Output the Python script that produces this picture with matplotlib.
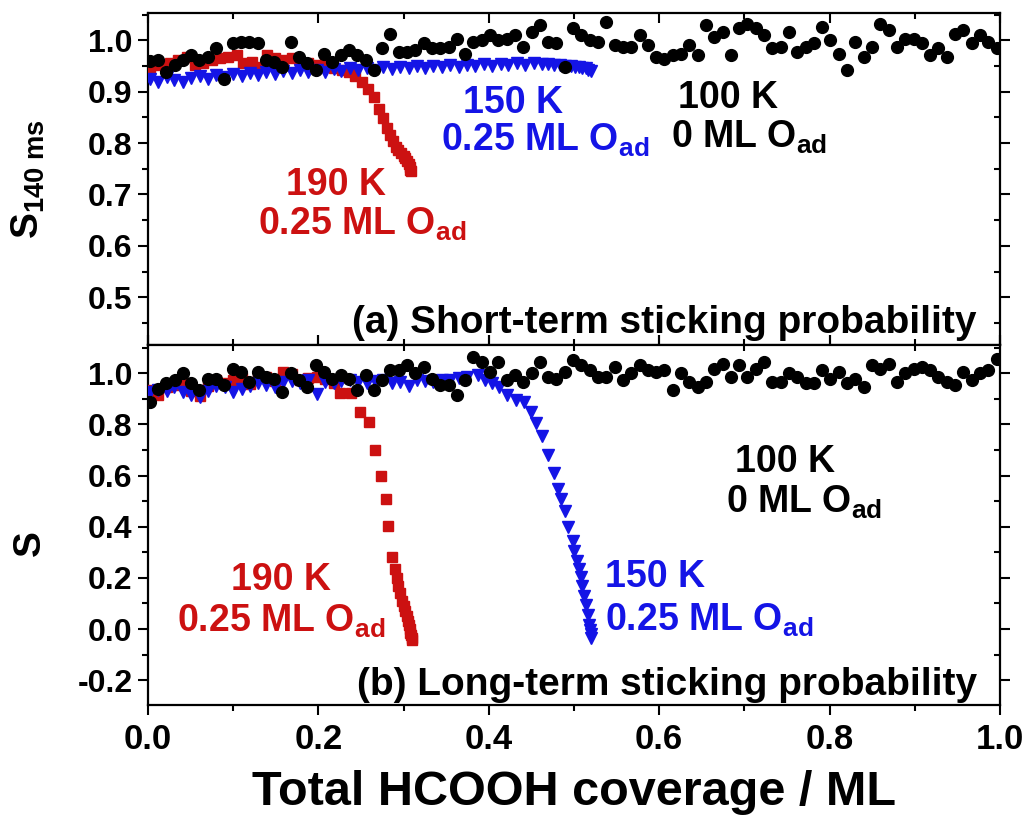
import numpy as np
import matplotlib
matplotlib.use("Agg")
import matplotlib.pyplot as plt
from matplotlib import font_manager
from matplotlib.ticker import MultipleLocator

# pick a condensed bold face if one is installed
names = {f.name for f in font_manager.fontManager.ttflist}
narrow = 'Liberation Sans Narrow' if 'Liberation Sans Narrow' in names else 'Liberation Sans'

plt.rcParams['font.family'] = [narrow, 'DejaVu Sans']
plt.rcParams['font.weight'] = 'bold'
plt.rcParams['mathtext.fontset'] = 'custom'
plt.rcParams['mathtext.rm'] = narrow + ':bold'
plt.rcParams['mathtext.bf'] = narrow + ':bold'
plt.rcParams['mathtext.it'] = narrow + ':bold'

RED = '#cc1111'
BLUE = '#1414e6'

# ---------------- data: (a) short-term sticking probability ----------------
a_black_y = [0.959, 0.961, 0.938, 0.951, 0.961, 0.971, 0.961, 0.967, 0.984, 0.925,
             0.994, 0.997, 0.997, 0.994, 0.961, 0.958, 0.948, 0.997, 0.967, 0.955,
             0.942, 0.974, 0.958, 0.971, 0.981, 0.971, 0.961, 0.942, 0.984, 1.013,
             0.977, 0.977, 0.981, 0.994, 0.984,
             0.984, 0.987, 1.003, 0.974, 0.997, 1.000, 1.010, 1.000, 1.003, 1.010,
             0.987, 1.016, 1.029, 0.997, 0.994, 0.948, 1.023, 1.010, 1.000, 0.997,
             1.036, 0.990, 0.987, 0.987, 1.010, 0.990, 0.967, 0.964, 0.971, 0.974,
             0.990, 0.971, 1.029, 1.006, 1.016, 0.971,
             1.023, 1.032, 1.023, 1.010, 0.984, 0.987, 1.016, 0.977, 0.987, 0.994,
             1.026, 1.000, 0.974, 0.942, 0.997, 0.967, 0.987, 1.032, 1.019, 0.987,
             1.003, 1.003, 0.994, 0.971, 0.984, 0.967, 1.013, 1.019, 0.994, 1.010,
             0.997, 0.984]
a_black_x = np.linspace(0.002, 0.996, len(a_black_y))

a_red_x = [0.002, 0.014, 0.026, 0.035, 0.046, 0.055, 0.065, 0.075, 0.085, 0.094,
           0.105, 0.112, 0.122, 0.132, 0.140, 0.149, 0.159, 0.169, 0.179, 0.188,
           0.199, 0.208, 0.218, 0.228, 0.236, 0.243, 0.251, 0.258, 0.265, 0.271,
           0.276, 0.280, 0.284, 0.288, 0.291, 0.294, 0.297, 0.300, 0.302, 0.304,
           0.306, 0.307, 0.308, 0.309]
a_red_y = [0.945, 0.951, 0.955, 0.961, 0.967, 0.951, 0.955, 0.961, 0.965, 0.967,
           0.971, 0.955, 0.957, 0.948, 0.971, 0.965, 0.961, 0.965, 0.957, 0.955,
           0.951, 0.955, 0.945, 0.942, 0.938, 0.930, 0.918, 0.905, 0.890, 0.866,
           0.848, 0.830, 0.815, 0.803, 0.792, 0.786, 0.780, 0.775, 0.770, 0.765,
           0.760, 0.754, 0.748, 0.745]

a_blue_x = [0.002, 0.012, 0.022, 0.031, 0.041, 0.051, 0.061, 0.071, 0.080, 0.090,
            0.100, 0.110, 0.120, 0.129, 0.139, 0.149, 0.159, 0.169, 0.178, 0.188,
            0.198, 0.208, 0.218, 0.227, 0.237, 0.247, 0.257, 0.267, 0.276, 0.286,
            0.296, 0.306, 0.316, 0.325, 0.335, 0.345, 0.355, 0.365, 0.374, 0.384,
            0.394, 0.404, 0.414, 0.423, 0.433, 0.443, 0.453, 0.462, 0.470, 0.477,
            0.484, 0.490, 0.496, 0.501, 0.506, 0.510, 0.514, 0.517, 0.520]
a_blue_y = [0.925, 0.918, 0.928, 0.922, 0.918, 0.927, 0.931, 0.925, 0.933, 0.929,
            0.935, 0.931, 0.937, 0.933, 0.939, 0.935, 0.940, 0.937, 0.942, 0.938,
            0.943, 0.939, 0.944, 0.941, 0.945, 0.942, 0.946, 0.943, 0.947, 0.944,
            0.948, 0.945, 0.949, 0.946, 0.950, 0.947, 0.951, 0.948, 0.952, 0.949,
            0.953, 0.950, 0.954, 0.951, 0.955, 0.952, 0.955, 0.953, 0.954, 0.951,
            0.952, 0.949, 0.950, 0.947, 0.948, 0.945, 0.946, 0.943, 0.940]

# ---------------- data: (b) long-term sticking probability ----------------
b_black_y = [0.889, 0.940, 0.960, 0.973, 0.999, 0.960, 0.934, 0.979, 0.979, 0.953,
             1.018, 1.005, 0.966, 1.005, 0.986, 0.979, 0.927, 0.999, 0.973, 0.947,
             1.031, 1.005, 0.979, 0.992, 0.979, 0.934, 0.992, 0.934, 0.973, 1.012,
             1.012, 1.031, 0.999, 1.025, 0.979,
             0.953, 0.953, 0.915, 0.973, 1.063, 1.044, 1.005, 1.044, 0.973, 0.992,
             0.966, 0.999, 1.044, 0.986, 0.979, 1.005, 1.050, 1.031, 1.012, 0.986,
             0.986, 1.025, 0.973, 0.999, 1.031, 1.012, 1.005, 1.012, 0.934, 0.999,
             0.966, 0.947, 0.966, 1.018, 1.037,
             0.986, 1.031, 0.986, 1.018, 1.044, 0.966, 0.966, 0.999, 0.986, 0.960,
             0.960, 1.012, 0.979, 1.005, 0.960, 0.979, 0.947, 1.031, 1.018, 1.037,
             0.966, 0.999, 1.018, 1.025, 1.012, 0.986, 0.966, 0.953, 1.005, 0.973,
             0.999, 1.012, 1.057]
b_black_x = np.linspace(0.002, 0.996, len(b_black_y))

b_red_x = [0.002, 0.012, 0.022, 0.031, 0.041, 0.051, 0.061, 0.071, 0.080, 0.090,
           0.100, 0.110, 0.120, 0.129, 0.139, 0.149, 0.159, 0.169, 0.178, 0.188,
           0.198, 0.208, 0.218, 0.226, 0.238, 0.249, 0.259, 0.267, 0.273, 0.279,
           0.282, 0.287, 0.290, 0.292, 0.294, 0.296, 0.298, 0.300, 0.302, 0.304,
           0.305, 0.306, 0.307, 0.308, 0.309, 0.310, 0.310]
b_red_y = [0.934, 0.915, 0.945, 0.955, 0.962, 0.930, 0.912, 0.950, 0.975, 0.962,
           0.972, 0.982, 0.958, 0.990, 0.985, 0.968, 1.005, 0.995, 0.972, 0.980,
           0.985, 0.976, 0.960, 0.922, 0.922, 0.850, 0.811, 0.701, 0.597, 0.507,
           0.403, 0.280, 0.235, 0.200, 0.170, 0.140, 0.110, 0.090, 0.070, 0.050,
           0.030, 0.015, 0.000, -0.015, -0.025, -0.035, -0.043]

b_blue_x = [0.002, 0.012, 0.022, 0.031, 0.041, 0.051, 0.061, 0.071, 0.080, 0.090,
            0.100, 0.110, 0.120, 0.129, 0.139, 0.149, 0.159, 0.169, 0.178, 0.188,
            0.198, 0.208, 0.218, 0.227, 0.237, 0.247, 0.257, 0.267, 0.276, 0.286,
            0.296, 0.306, 0.316, 0.325, 0.335, 0.345, 0.355, 0.365, 0.374,
            0.387, 0.396, 0.404, 0.412, 0.422, 0.432, 0.441, 0.450, 0.455, 0.463,
            0.469, 0.477, 0.481, 0.485, 0.489, 0.493, 0.499, 0.500, 0.504, 0.506,
            0.508, 0.510, 0.512, 0.514, 0.516, 0.518, 0.519, 0.520, 0.520]
b_blue_y = [0.925, 0.935, 0.930, 0.945, 0.925, 0.915, 0.905, 0.930, 0.950, 0.945,
            0.925, 0.940, 0.950, 0.960, 0.955, 0.945, 0.965, 0.970, 0.960, 0.975,
            0.918, 0.965, 0.960, 0.970, 0.975, 0.965, 0.960, 0.970, 0.975, 0.960,
            0.965, 0.950, 0.975, 0.970, 0.965, 0.975, 0.975, 0.980, 0.985,
            0.992, 0.973, 0.960, 0.947, 0.915, 0.895, 0.889, 0.850, 0.805, 0.753,
            0.682, 0.610, 0.546, 0.507, 0.461, 0.397, 0.345, 0.306, 0.267, 0.235,
            0.203, 0.170, 0.131, 0.092, 0.054, 0.015, -0.005, -0.020, -0.037]

# ---------------- figure ----------------
fig = plt.figure(figsize=(10.26, 8.16), dpi=100)
ax1 = fig.add_axes([0.1442, 0.5772, 0.8304, 0.4069])
ax2 = fig.add_axes([0.1442, 0.1360, 0.8304, 0.4412], sharex=ax1)


def draw(ax, rx, ry, bx, by, kx, ky):
    ax.plot(rx, ry, 's', color=RED, ms=7.5, mec=RED, zorder=3)
    ax.plot(bx, by, 'v', color=BLUE, ms=8.5, mec=BLUE, zorder=4)
    ax.plot(kx, ky, 'o', color='black', ms=8.5, zorder=5)


draw(ax1, a_red_x, a_red_y, a_blue_x, a_blue_y, a_black_x, a_black_y)
draw(ax2, b_red_x, b_red_y, b_blue_x, b_blue_y, b_black_x, b_black_y)

ax1.set_xlim(0, 1.0)
ax1.set_ylim(0.407, 1.053)
ax2.set_ylim(-0.297, 1.11)

ax1.yaxis.set_major_locator(MultipleLocator(0.1))
ax1.yaxis.set_minor_locator(MultipleLocator(0.05))
ax2.yaxis.set_major_locator(MultipleLocator(0.2))
ax2.yaxis.set_minor_locator(MultipleLocator(0.1))
ax2.xaxis.set_major_locator(MultipleLocator(0.2))
ax2.xaxis.set_minor_locator(MultipleLocator(0.1))

for ax in (ax1, ax2):
    for s in ax.spines.values():
        s.set_linewidth(1.6)
    ax.tick_params(which='both', width=1.5)
    ax.tick_params(which='major', length=7)
    ax.tick_params(which='minor', length=4)
    ax.tick_params(axis='y', which='both', left=True, right=True)
    ax.tick_params(axis='x', which='both', top=True, bottom=True)
    ax.yaxis.set_major_formatter(plt.FormatStrFormatter('%.1f'))
    for lab in ax.get_yticklabels():
        lab.set_fontfamily(['Liberation Sans', 'DejaVu Sans'])
        lab.set_fontweight('bold')
        lab.set_fontsize(23)

# ticks: outward on left/bottom, inward on top/right
ax1.yaxis.set_tick_params(which='both', direction='out')
ax1.tick_params(axis='x', which='both', direction='in', labelbottom=False)
ax2.tick_params(axis='x', which='both', direction='out')
ax2.yaxis.set_tick_params(which='both', direction='out')
for ax in (ax1, ax2):
    ax.yaxis.set_ticks_position('both')
    for t in ax.yaxis.get_major_ticks() + ax.yaxis.get_minor_ticks():
        t.tick2line.set_marker(matplotlib.lines.TICKLEFT)
    for t in ax.xaxis.get_major_ticks() + ax.xaxis.get_minor_ticks():
        t.tick2line.set_marker(matplotlib.lines.TICKDOWN)
ax2.tick_params(axis='x', labelsize=25, pad=6)
ax2.tick_params(axis='y', pad=4)
ax1.tick_params(axis='y', pad=4)

ax1.set_ylabel(r'$\mathbf{S}_{\mathbf{140\ ms}}$', fontsize=28,
               fontfamily=['Liberation Sans', 'DejaVu Sans'])
ax2.set_ylabel('S', fontsize=28, fontweight='bold',
               fontfamily=['Liberation Sans', 'DejaVu Sans'])
ax1.yaxis.set_label_coords(-0.118, 0.5)
ax2.yaxis.set_label_coords(-0.118, 0.45)
ax2.set_xlabel('Total HCOOH coverage / ML', fontsize=35, fontweight='bold', labelpad=10)

sub = r'$_{\mathbf{ad}}$'
fs = 27
ax1.text(0.221, 0.698, '190 K', color=RED, fontsize=fs, ha='center', va='baseline')
ax1.text(0.129, 0.621, '0.25 ML O' + sub, color=RED, fontsize=fs, ha='left', va='baseline')
ax1.text(0.428, 0.858, '150 K', color=BLUE, fontsize=fs, ha='center', va='baseline')
ax1.text(0.344, 0.786, '0.25 ML O' + sub, color=BLUE, fontsize=fs, ha='left', va='baseline')
ax1.text(0.681, 0.868, '100 K', color='black', fontsize=fs, ha='center', va='baseline')
ax1.text(0.614, 0.790, '0 ML O' + sub, color='black', fontsize=fs, ha='left', va='baseline')
ax1.text(0.973, 0.430, '(a) Short-term sticking probability', fontsize=28,
         ha='right', va='baseline')

ax2.text(0.748, 0.612, '100 K', color='black', fontsize=fs, ha='center', va='baseline')
ax2.text(0.679, 0.456, '0 ML O' + sub, color='black', fontsize=fs, ha='left', va='baseline')
ax2.text(0.156, 0.153, '190 K', color=RED, fontsize=fs, ha='center', va='baseline')
ax2.text(0.034, -0.010, '0.25 ML O' + sub, color=RED, fontsize=fs, ha='left', va='baseline')
ax2.text(0.536, 0.165, '150 K', color=BLUE, fontsize=fs, ha='left', va='baseline')
ax2.text(0.536, -0.006, '0.25 ML O' + sub, color=BLUE, fontsize=fs, ha='left', va='baseline')
ax2.text(0.973, -0.258, '(b) Long-term sticking probability', fontsize=28,
         ha='right', va='baseline')

fig.savefig('out.png', dpi=100)
